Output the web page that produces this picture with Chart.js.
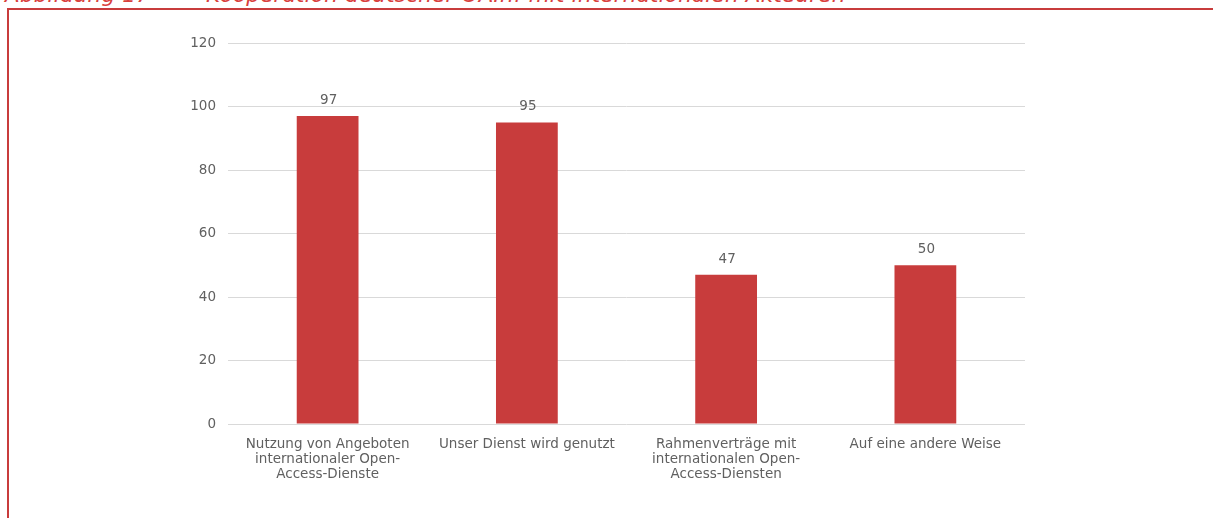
<!DOCTYPE html>
<html>
<head>
<meta charset="utf-8">
<script src="https://cdn.jsdelivr.net/npm/chart.js@4"></script>
<style>
  html, body { margin: 0; padding: 0; background: #fff; overflow: hidden; }
  #wrap { position: relative; width: 1213px; height: 518px; }
  #caption {
    position: absolute; left: 5px; top: -17px;
    font: italic 21.5px "DejaVu Sans", sans-serif; color: #d9403c;
    white-space: nowrap; line-height: 24px; letter-spacing: 0.2px;
  }
  #gap { display: inline-block; width: 56px; }
  #frame {
    position: absolute; left: 7px; top: 8px; width: 1206px; height: 520px;
    border-top: 2px solid #c83c3c; border-left: 2px solid #c83c3c;
  }
  #chartBox { position: absolute; left: 0; top: 0; width: 1213px; height: 518px; }
</style>
</head>
<body>
<div id="wrap">
  <div id="caption">Abbildung 17<span id="gap"></span>Kooperation deutscher OAInf mit internationalen Akteuren</div>
  <div id="frame"></div>
  <div id="chartBox"><canvas id="barChart"></canvas></div>
</div>
<script>
// Chart data
const categories = [
  ["Nutzung von Angeboten", "internationaler Open-", "Access-Dienste"],
  ["Unser Dienst wird genutzt"],
  ["Rahmenverträge mit", "internationalen Open-", "Access-Diensten"],
  ["Auf eine andere Weise"]
];
const counts = [97, 95, 47, 50];
const yTicks = [0, 20, 40, 60, 80, 100, 120];

const textColor = "#606060";
const fontFamily = "'DejaVu Sans', sans-serif";

// draw the value above each bar
const valueLabels = {
  id: "valueLabels",
  afterDatasetsDraw(chart) {
    const ctx = chart.ctx;
    const meta = chart.getDatasetMeta(0);
    ctx.save();
    ctx.fillStyle = textColor;
    ctx.font = "13.5px " + fontFamily;
    ctx.textAlign = "center";
    ctx.textBaseline = "bottom";
    meta.data.forEach((bar, i) => {
      ctx.fillText(counts[i], bar.x + 1, bar.y - 9);
    });
    ctx.restore();
  },
};

const barCtx = document.getElementById("barChart").getContext("2d");
new Chart(barCtx, {
  type: "bar",
  data: {
    labels: categories,
    datasets: [
      {
        data: counts,
        backgroundColor: "#c83c3c",
        barPercentage: 0.62,
        categoryPercentage: 0.5,
      },
    ],
  },
  options: {
    responsive: true,
    maintainAspectRatio: false,
    animation: false,
    layout: { padding: { top: 43, right: 188, bottom: 0, left: 0 } },
    plugins: {
      legend: { display: false },
      tooltip: { enabled: false },
    },
    scales: {
      x: {
        grid: { display: false },
        border: { display: false },
        ticks: {
          color: textColor,
          font: { family: fontFamily, size: 13.5, lineHeight: 1.1 },
          padding: 5,
          maxRotation: 0,
          autoSkip: false,
        },
        afterFit(scale) { scale.height = 94; },
      },
      y: {
        min: 0,
        max: 120,
        afterBuildTicks(scale) { scale.ticks = yTicks.map((v) => ({ value: v })); },
        grid: { color: "#d9d9d9", lineWidth: 1, drawTicks: false },
        border: { display: false },
        ticks: {
          color: textColor,
          font: { family: fontFamily, size: 13.5 },
          padding: 12,
        },
        afterFit(scale) { scale.width = 228; },
      },
    },
  },
  plugins: [valueLabels],
});
</script>
</body>
</html>
